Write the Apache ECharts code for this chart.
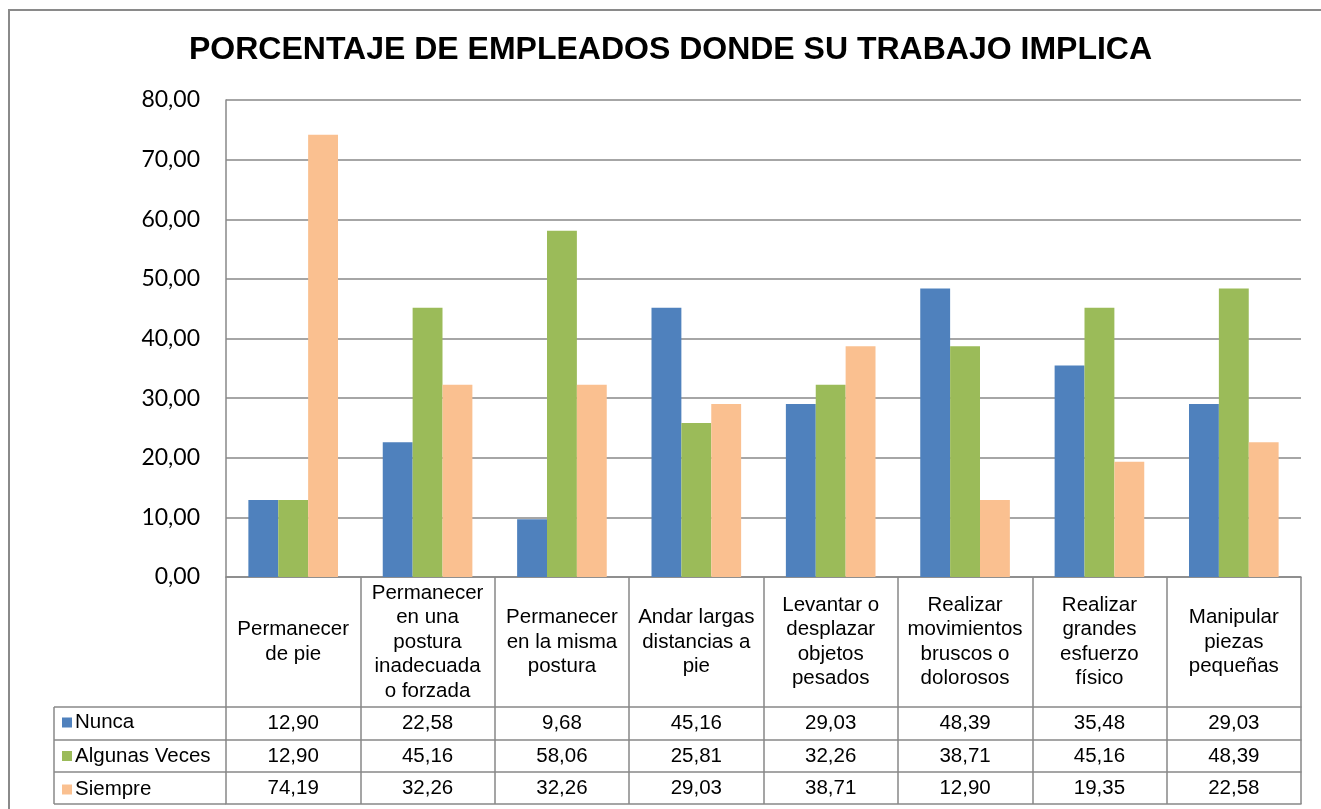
<!DOCTYPE html>
<html>
<head>
<meta charset="utf-8">
<style>html,body{margin:0;padding:0;background:#fff;}#c{width:1321px;height:809px;}</style>
<script src="https://cdn.jsdelivr.net/npm/echarts@6/dist/echarts.min.js"></script>
</head>
<body>
<div id="c"></div>
<script>
const categories = [
  "Permanecer\nde pie",
  "Permanecer\nen una\npostura\ninadecuada\no forzada",
  "Permanecer\nen la misma\npostura",
  "Andar largas\ndistancias a\npie",
  "Levantar o\ndesplazar\nobjetos\npesados",
  "Realizar\nmovimientos\nbruscos o\ndolorosos",
  "Realizar\ngrandes\nesfuerzo\nfísico",
  "Manipular\npiezas\npequeñas"
];
const seriesNames = ["Nunca", "Algunas Veces", "Siempre"];
const nunca = [12.90, 22.58, 9.68, 45.16, 29.03, 48.39, 35.48, 29.03];
const algunasVeces = [12.90, 45.16, 58.06, 25.81, 32.26, 38.71, 45.16, 48.39];
const siempre = [74.19, 32.26, 32.26, 29.03, 38.71, 12.90, 19.35, 22.58];
const yTicks = [0, 10, 20, 30, 40, 50, 60, 70, 80];
const titleText = "PORCENTAJE DE EMPLEADOS DONDE SU TRABAJO IMPLICA";

const colors = ["#4F81BD", "#9BBB59", "#FAC090"];
const lineColor = "#888888";
const fmt = v => v.toFixed(2).replace('.', ',');

// layout
const W = 1321, H = 809;
const gLeft = 226, gRight = 1301, gTop = 100, gBottom = 577;
const headerH = 130, rowH = [33, 32, 32];
const legendLeft = 54;
const tableFont = 20.5;
const rowsData = [nunca, algunasVeces, siempre];

const chart = echarts.init(document.getElementById('c'), null, {renderer: 'canvas'});

const xAxes = [{
  type: 'category', data: categories, position: 'bottom', gridIndex: 0,
  axisLine: {show: true, lineStyle: {color: lineColor, width: 1.5}},
  axisTick: {show: true, interval: 0, length: headerH, lineStyle: {color: lineColor, width: 1.5}},
  axisLabel: {interval: 0, margin: headerH / 2, verticalAlign: 'middle', align: 'center',
    fontFamily: 'Liberation Sans', fontSize: tableFont, lineHeight: 24.5, color: '#000'}
}];
let off = headerH;
rowsData.forEach((arr, r) => {
  xAxes.push({
    type: 'category', data: categories, position: 'bottom', offset: off, gridIndex: 0,
    axisLine: {show: true, lineStyle: {color: lineColor, width: 1.5}},
    axisTick: {show: true, interval: 0, length: rowH[r], lineStyle: {color: lineColor, width: 1.5}},
    axisLabel: {interval: 0, margin: rowH[r] / 2, verticalAlign: 'middle', align: 'center',
      fontFamily: 'Liberation Sans', fontSize: tableFont, color: '#000',
      formatter: (v, i) => fmt(arr[i])}
  });
  off += rowH[r];
});
xAxes.push({
  type: 'category', data: categories, position: 'bottom', offset: off, gridIndex: 0,
  axisLine: {show: true, lineStyle: {color: lineColor, width: 1.5}},
  axisTick: {show: false}, axisLabel: {show: false}
});

// legend column borders + outer chart border
const graphics = [];
graphics.push({type: 'rect', shape: {x: 9, y: 10, width: W + 20, height: H + 20},
  style: {fill: null, stroke: '#8a8a8a', lineWidth: 2}, silent: true, z: -1});
let yy = gBottom + headerH;
const ys = [yy];
rowH.forEach(h => { yy += h; ys.push(yy); });
ys.forEach(y => graphics.push({type: 'line', shape: {x1: legendLeft, y1: y, x2: gLeft, y2: y},
  style: {stroke: lineColor, lineWidth: 1.5}, silent: true}));
graphics.push({type: 'line', shape: {x1: legendLeft, y1: ys[0], x2: legendLeft, y2: ys[ys.length - 1]},
  style: {stroke: lineColor, lineWidth: 1.5}, silent: true});

const option = {
  backgroundColor: '#fff',
  animation: false,
  color: colors,
  title: {text: titleText, left: 189, top: 34, padding: 0,
    textStyle: {fontFamily: 'Liberation Sans', fontWeight: 'bold', fontSize: 32, color: '#000'}},
  legend: {
    orient: 'vertical', left: legendLeft + 8, top: gBottom + headerH + 5, padding: 0,
    data: seriesNames, icon: 'rect', itemWidth: 10, itemHeight: 10, itemGap: 12.5,
    textStyle: {fontFamily: 'Liberation Sans', fontSize: tableFont, color: '#000', lineHeight: 20, padding: [0, 0, 0, -2]}
  },
  grid: {left: gLeft, right: W - gRight, top: gTop, bottom: H - gBottom, containLabel: false},
  xAxis: xAxes,
  yAxis: {
    type: 'value', min: yTicks[0], max: yTicks[yTicks.length - 1], interval: 10,
    axisLine: {show: true, lineStyle: {color: lineColor, width: 1.5}},
    axisTick: {show: false},
    splitLine: {show: true, lineStyle: {color: lineColor, width: 1.5}},
    axisLabel: {margin: 26, fontFamily: 'Lato', fontSize: 23, color: '#000', formatter: v => fmt(v)}
  },
  series: seriesNames.map((n, i) => ({
    name: n, type: 'bar', xAxisIndex: 0, data: rowsData[i],
    barGap: '0%', barCategoryGap: '33.3%', itemStyle: {color: colors[i]}
  })),
  graphic: graphics
};
chart.setOption(option);
</script>
</body>
</html>
